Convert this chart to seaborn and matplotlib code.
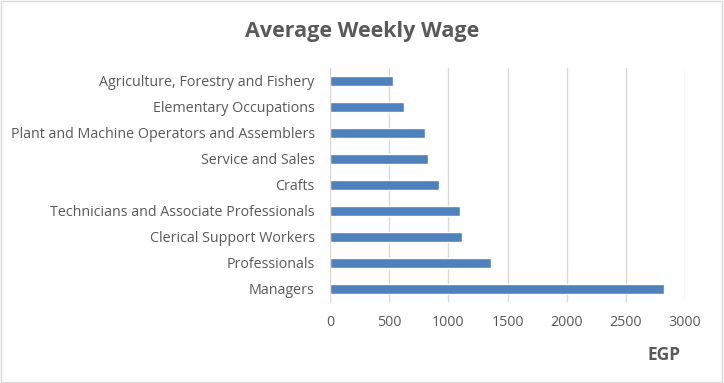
import matplotlib
matplotlib.use("Agg")
import matplotlib.pyplot as plt
import seaborn as sns
import pandas as pd
from matplotlib.patches import Rectangle

# Datos
occupations = ["Agriculture, Forestry and Fishery", "Elementary Occupations",
               "Plant and Machine Operators and Assemblers", "Service and Sales",
               "Crafts", "Technicians and Associate Professionals",
               "Clerical Support Workers", "Professionals", "Managers"]
wages = [535, 628, 805, 832, 918, 1102, 1115, 1362, 2825]
x_ticks = [0, 500, 1000, 1500, 2000, 2500, 3000]

df = pd.DataFrame({"Occupation": occupations, "Wage": wages})

sns.set_style("white")
plt.rcParams['font.family'] = ['Open Sans', 'DejaVu Sans']
text_color = "#595959"

fig = plt.figure(figsize=(7.24, 3.83), dpi=100)
ax = fig.add_axes([330 / 724, 1 - 302 / 383, (685 - 330) / 724, (302 - 68) / 383])

sns.barplot(data=df, y="Occupation", x="Wage", color="#4F81BD",
            width=0.37, ax=ax, saturation=1)

ax.set_xlim(0, 3000)
ax.set_xticks(x_ticks)
ax.set_xticklabels([str(t) for t in x_ticks], fontsize=10.3, color=text_color)
ax.tick_params(axis="y", labelsize=10.3, labelcolor=text_color, length=0, pad=11)
ax.tick_params(axis="x", length=0, pad=9)
ax.grid(axis="x", color="#D9D9D9", linewidth=1)
ax.set_axisbelow(True)
for s in ["top", "right", "bottom"]:
    ax.spines[s].set_visible(False)
ax.spines["left"].set_color("#D9D9D9")
ax.set_ylabel("")
ax.set_xlabel("")

fig.text(0.5, 1 - 32 / 383, "Average Weekly Wage", ha="center", va="center",
         fontsize=15.5, fontweight="bold", color=text_color)
fig.text(664 / 724, 1 - 355 / 383, "EGP", ha="center", va="center",
         fontsize=12.5, fontweight="bold", color=text_color)

# Borde del grafico
fig.patches.append(Rectangle((0.002, 0.003), 0.995, 0.994, transform=fig.transFigure,
                             fill=False, edgecolor="#D9D9D9", linewidth=1))

fig.savefig("out.png", dpi=100)
